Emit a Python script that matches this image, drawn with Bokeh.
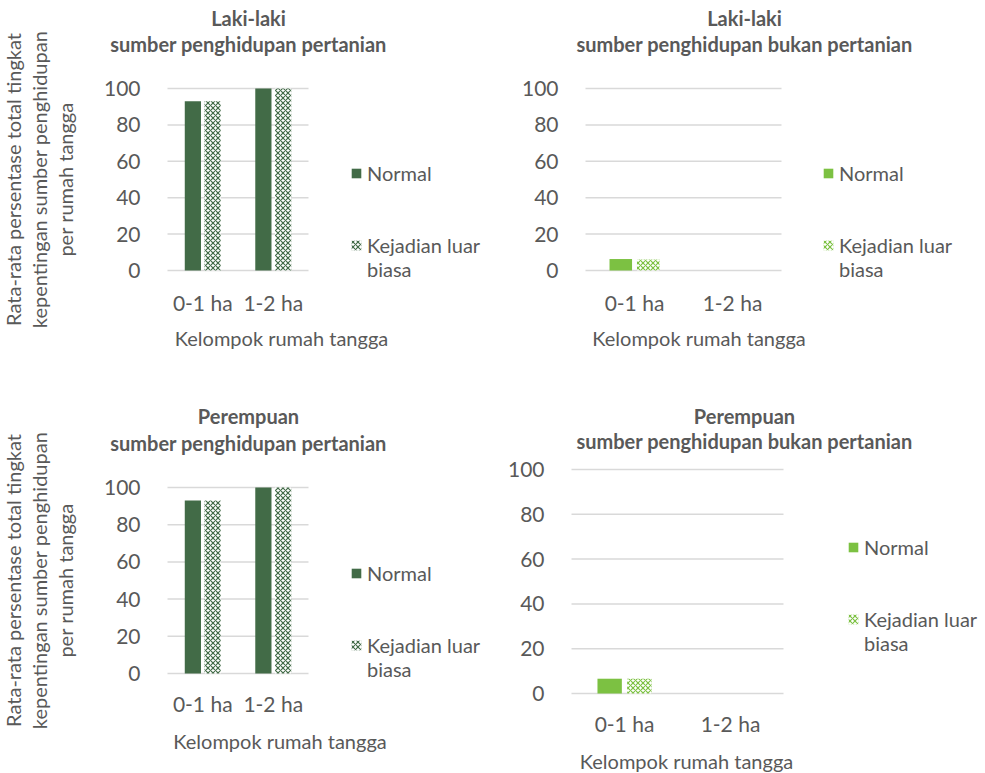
from bokeh.plotting import figure
from bokeh.models import (ColumnDataSource, Range1d, Legend, LegendItem, Label, FixedTicker)
from bokeh.layouts import column, row
from bokeh.transform import dodge
from bokeh.embed import file_html
from bokeh.resources import INLINE

# ---------------- data ----------------
categories = ["0-1 ha", "1-2 ha"]
series_labels = ["Normal", "Kejadian luar", "biasa"]
y_ticks = [0, 20, 40, 60, 80, 100]

laki_pertanian_normal = [93, 100]
laki_pertanian_klb = [93, 100]
laki_bukan_normal = [6.3, 0]
laki_bukan_klb = [6.0, 0]
perempuan_pertanian_normal = [93, 100]
perempuan_pertanian_klb = [93, 100]
perempuan_bukan_normal = [6.6, 0]
perempuan_bukan_klb = [6.6, 0]

title_lines = [
    ("Laki-laki", "sumber penghidupan pertanian"),
    ("Laki-laki", "sumber penghidupan bukan pertanian"),
    ("Perempuan", "sumber penghidupan pertanian"),
    ("Perempuan", "sumber penghidupan bukan pertanian"),
]
x_label = "Kelompok rumah tangga"
y_label = "Rata-rata persentase total tingkat\nkepentingan sumber penghidupan\nper rumah tangga"

# ---------------- style ----------------
FONT = "Lato"
TEXT = "#595959"
GRID = "#D9D9D9"
DARK = "#426B47"
LIGHT = "#7CC142"


def make_panel(lines, normal, klb, color, W, H, L, T, FW, FH,
               t1_pos, t2_pos, xl_pos, legend_xy, xtick_standoff, show_ylabel):
    n = len(categories)
    x_centers = [i + 0.5 for i in range(n)]
    y_max = y_ticks[-1]
    ppx = FW / n          # pixels per category
    ppy = FH / y_max      # pixels per percent
    # the frame covers the whole panel; the plot area sits inside it
    x_range = Range1d(-L / ppx, n + (W - L - FW) / ppx)
    y_range = Range1d(-(H - T - FH) / ppy, y_max + T / ppy)

    p = figure(x_range=x_range, y_range=y_range, frame_width=W, frame_height=H,
               min_border=0, output_backend="svg", toolbar_location=None, tools="")
    p.outline_line_color = None
    p.background_fill_color = "white"
    p.border_fill_color = "white"
    p.grid.visible = False

    # horizontal gridlines at the y ticks, spanning the category area
    gsrc = ColumnDataSource(dict(y=y_ticks, x0=[0] * len(y_ticks), x1=[n] * len(y_ticks)))
    p.segment(x0="x0", x1="x1", y0="y", y1="y", source=gsrc, line_color=GRID, line_width=1.5)

    src = ColumnDataSource(dict(x=x_centers, normal=normal, klb=klb))
    r1 = p.vbar(x=dodge("x", -0.14), top="normal", width=0.23,
                source=src, fill_color=color, line_color=None)
    r2 = p.vbar(x=dodge("x", 0.14), top="klb", width=0.23,
                source=src, fill_color="white", line_color=None,
                hatch_pattern="diagonal_cross", hatch_color=color, hatch_scale=5, hatch_weight=1.2)
    blank = p.vbar(x=[], top=[], width=0.23, fill_alpha=0, line_alpha=0)

    # axes drawn inside the frame at the plot-area edges
    p.xaxis.fixed_location = 0
    p.xaxis.ticker = FixedTicker(ticks=x_centers)
    p.xaxis.major_label_overrides = {x: c for x, c in zip(x_centers, categories)}
    p.xaxis.bounds = (0, n)
    p.yaxis.fixed_location = 0
    p.yaxis.ticker = FixedTicker(ticks=y_ticks)
    p.yaxis.bounds = (0, y_max)
    for ax in (p.xaxis[0], p.yaxis[0]):
        ax.axis_line_color = None
        ax.major_tick_line_color = None
        ax.minor_tick_line_color = None
        ax.major_label_text_font = FONT
        ax.major_label_text_font_size = "21px"
        ax.major_label_text_color = TEXT
    p.yaxis.major_label_standoff = 21
    p.xaxis.major_label_standoff = xtick_standoff

    if show_ylabel:
        p.yaxis.axis_label = y_label
        p.yaxis.axis_label_text_font = FONT
        p.yaxis.axis_label_text_font_size = "20px"
        p.yaxis.axis_label_text_font_style = "normal"
        p.yaxis.axis_label_text_color = TEXT
        p.yaxis.axis_label_text_line_height = 1.08
        p.yaxis.axis_label_standoff = 24

    def add_text(txt, pos, bold):
        p.add_layout(Label(x=pos[0], y=H - pos[1], x_units="screen", y_units="screen",
                           text=txt, text_align="center", text_baseline="middle",
                           text_font=FONT, text_font_size="20px",
                           text_font_style="bold" if bold else "normal",
                           text_color=TEXT))

    add_text(lines[0], t1_pos, True)
    add_text(lines[1], t2_pos, True)
    add_text(x_label, xl_pos, False)

    items = [LegendItem(label=series_labels[0], renderers=[r1]),
             LegendItem(label=" ", renderers=[blank]),
             LegendItem(label=" ", renderers=[blank]),
             LegendItem(label=series_labels[1], renderers=[r2]),
             LegendItem(label=series_labels[2], renderers=[blank])]
    legend = Legend(items=items, location=legend_xy,
                    glyph_width=12, glyph_height=12, label_height=24, label_standoff=5,
                    spacing=0, padding=0, margin=0,
                    border_line_color=None, background_fill_alpha=0,
                    label_text_font=FONT, label_text_font_size="20px",
                    label_text_color=TEXT)
    p.add_layout(legend)
    return p


p1 = make_panel(title_lines[0], laki_pertanian_normal, laki_pertanian_klb, DARK,
                490, 390, 167, 88, 141, 182,
                (248, 17), (248, 43), (281, 337), (350, 109), 13, True)
p2 = make_panel(title_lines[1], laki_bukan_normal, laki_bukan_klb, LIGHT,
                495, 390, 95, 88, 196, 182,
                (254, 17), (254, 43), (208.5, 337), (332, 109), 13, False)
p3 = make_panel(title_lines[2], perempuan_pertanian_normal, perempuan_pertanian_klb, DARK,
                490, 383, 167, 97, 141, 186,
                (248, 25), (248, 52), (279.5, 350), (350, 92), 11, True)
p4 = make_panel(title_lines[3], perempuan_bukan_normal, perempuan_bukan_klb, LIGHT,
                495, 383, 81, 79, 212, 224,
                (254, 25), (254, 50), (196, 370), (357, 118), 11, False)

layout = column(row(p1, p2), row(p3, p4))
open("out.html", "w").write(file_html(layout, INLINE))
